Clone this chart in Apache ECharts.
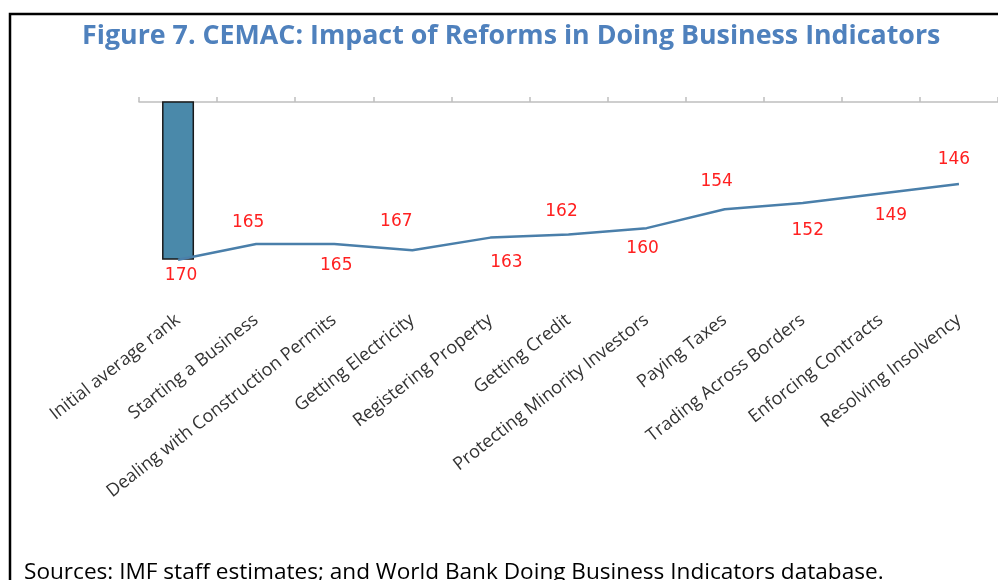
<!DOCTYPE html>
<html>
<head>
<meta charset="utf-8">
<title>CEMAC: Impact of Reforms in Doing Business Indicators</title>
<script src="https://cdn.jsdelivr.net/npm/echarts@6/dist/echarts.min.js"></script>
<style>
  html, body { margin: 0; padding: 0; background: #fff; }
  #chart { width: 998px; height: 580px; }
</style>
</head>
<body>
<div id="chart"></div>
<script>
// categories along the x axis
var categories = [
  "Initial average rank",
  "Starting a Business",
  "Dealing with Construction Permits",
  "Getting Electricity",
  "Registering Property",
  "Getting Credit",
  "Protecting Minority Investors",
  "Paying Taxes",
  "Trading Across Borders",
  "Enforcing Contracts",
  "Resolving Insolvency"
];
// rank after each reform (line)
var rankAfter = [170, 165, 165, 167, 163, 162, 160, 154, 152, 149, 146];
// initial average rank (bar, first category only)
var initialRank = [170, "-", "-", "-", "-", "-", "-", "-", "-", "-", "-"];

// label nudges [dx, dy] so the labels sit like in the original
var labelNudge = [
  [3, 16], [-8, -21], [2, 22], [-16, -29], [16, 25], [-7, -23],
  [-4, 20], [-8, -28], [5, 28], [10, 22], [-5, -24]
];

var myChart = echarts.init(document.getElementById("chart"));

var lineData = rankAfter.map(function (v, i) {
  return {
    value: v,
    label: { offset: labelNudge[i] }
  };
});

var option = {
  animation: false,
  backgroundColor: "#fff",
  graphic: [
    {
      type: "rect",
      shape: { x: 10, y: 14, width: 1100, height: 700 },
      style: { fill: "none", stroke: "#000", lineWidth: 2.5 },
      silent: true
    },
    {
      type: "text",
      left: 82,
      top: 23,
      style: {
        text: "Figure 7. CEMAC: Impact of Reforms in Doing Business Indicators",
        font: "bold 26.8px 'Open Sans'",
        fill: "#4F81BD"
      }
    },
    {
      type: "text",
      left: 24,
      top: 561,
      style: {
        text: "Sources: IMF staff estimates; and World Bank Doing Business Indicators database.",
        font: "22.6px 'Open Sans'",
        fill: "#000"
      }
    }
  ],
  grid: {
    left: 139,
    top: 102,
    width: 862,
    height: 205,
    containLabel: false
  },
  xAxis: [
    {
      type: "category",
      position: "top",
      data: categories,
      boundaryGap: true,
      axisLine: { show: true, lineStyle: { color: "#BFBFBF", width: 1.5 } },
      axisTick: { show: true, interval: 0, length: 5, lineStyle: { color: "#BFBFBF", width: 1.5 } },
      axisLabel: { show: false }
    },
    {
      type: "category",
      position: "bottom",
      data: categories,
      boundaryGap: true,
      axisLine: { show: false },
      axisTick: { show: false },
      axisLabel: {
        interval: 0,
        rotate: 38,
        margin: 11,
        fontFamily: "Open Sans",
        fontSize: 18,
        color: "#333"
      }
    }
  ],
  yAxis: {
    type: "value",
    inverse: true,
    min: 120,
    max: 185,
    show: false,
    splitLine: { show: false }
  },
  series: [
    {
      name: "Initial average rank",
      type: "bar",
      xAxisIndex: 0,
      data: initialRank,
      barWidth: 32,
      itemStyle: { color: "#4A89AA", borderColor: "#1a1a1a", borderWidth: 1.5 }
    },
    {
      name: "Rank after reform",
      type: "line",
      xAxisIndex: 0,
      data: lineData,
      symbol: "circle",
      symbolSize: 1,
      showSymbol: true,
      lineStyle: { color: "#4A7FAA", width: 2.5 },
      itemStyle: { color: "rgba(0,0,0,0)" },
      label: {
        show: true,
        position: "inside",
        fontFamily: "DejaVu Sans",
        fontSize: 17,
        color: "#FF2020"
      },
      z: 3
    }
  ]
};

myChart.setOption(option, true);
window.addEventListener("resize", function () {
  myChart.resize();
});
</script>
</body>
</html>
